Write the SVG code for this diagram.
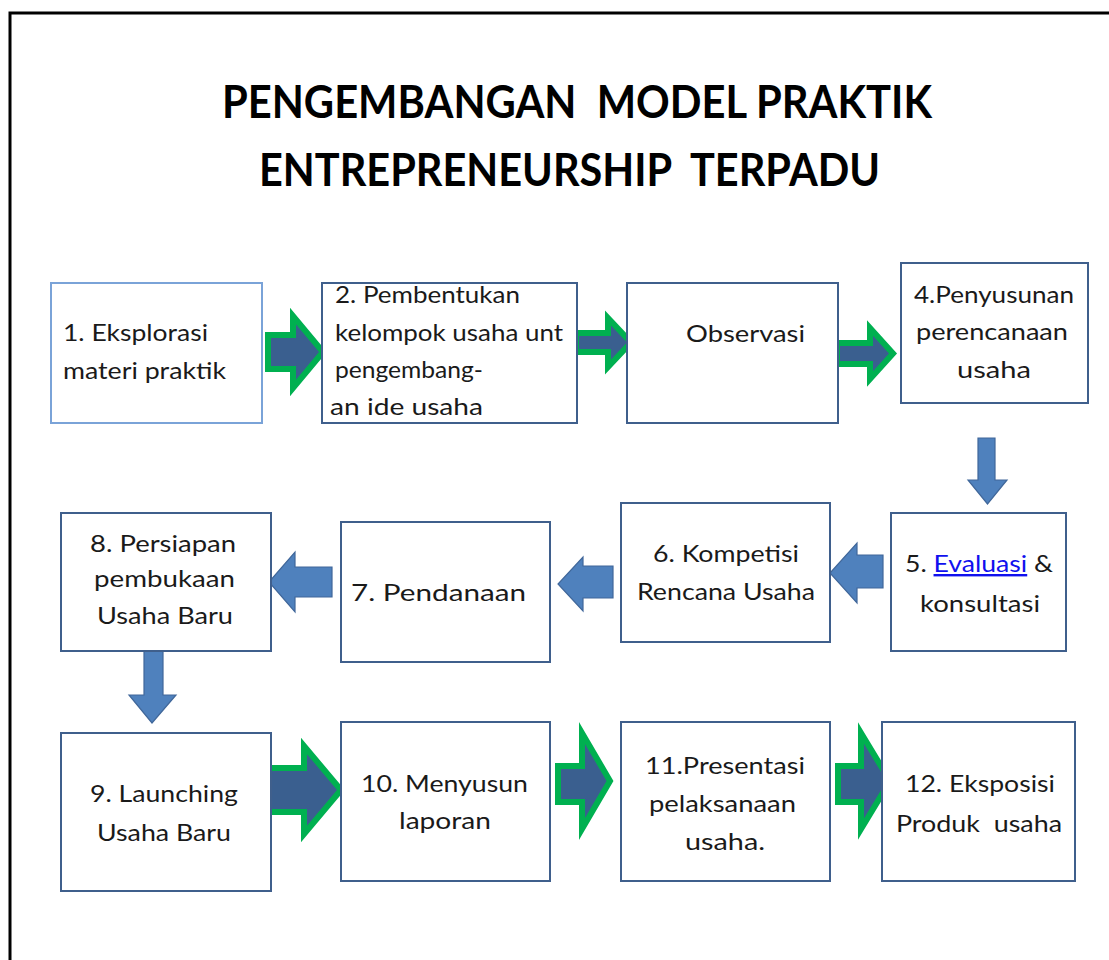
<svg xmlns="http://www.w3.org/2000/svg" width="1109" height="960" viewBox="0 0 1109 960">
<style>
.frame{fill:none;stroke:#000;stroke-width:3}
.box{fill:#fff;stroke:#3f5f8c;stroke-width:2}
.box1{fill:#fff;stroke:#7aa3d8;stroke-width:2}
.t{font-family:Lato,"Open Sans","Liberation Sans",sans-serif;font-size:24px;fill:#1a1a1a}
.title{font-family:Lato,"Open Sans","Liberation Sans",sans-serif;font-size:46px;font-weight:bold;fill:#000}
.ga{fill:#3a5f8f;stroke:#00b050;stroke-width:6;stroke-linejoin:miter}
.ba{fill:#4f81bd;stroke:#40679a;stroke-width:1.2}
.link{fill:#1010ee}
</style>
<rect x="0" y="0" width="1109" height="960" fill="#fff"/>
<path class="frame" d="M10,962 V13 H1112"/>
<g id="title">
<text class="title" x="222" y="118" textLength="710" lengthAdjust="spacingAndGlyphs" xml:space="preserve">PENGEMBANGAN  MODEL PRAKTIK</text>
<text class="title" x="259" y="186" textLength="621" lengthAdjust="spacingAndGlyphs" xml:space="preserve">ENTREPRENEURSHIP  TERPADU</text>
</g>
<g id="connectors">
<path class="ga" d="M268,335 H293 V316 L323,352 L293,388 V369 H268 Z"/>
<path class="ga" d="M576,333 H608 V318 L631,342.5 L608,367 V352 H576 Z"/>
<path class="ga" d="M837,343 H870 V328 L893,353.5 L870,379 V364 H837 Z"/>
<path class="ba" d="M978,438 H995 V480 H1007 L987.5,504 L968,480 H978 Z"/>
<path class="ba" d="M883,555 V588 H857 V603 L830,573 L857,543 V555 Z"/>
<path class="ba" d="M613,566 V598 H583 V611 L558,584 L583,557 V566 Z"/>
<path class="ba" d="M332,567 V597 H295 V612 L269,582 L295,552 V567 Z"/>
<path class="ba" d="M144,643 H163 V695 H176 L152,723 L129,695 H144 Z"/>
<path class="ga" d="M269,768 H304 V746 L341,790 L304,834 V812 H269 Z"/>
<path class="ga" d="M558,766 H582 V733 L610,781 L582,829 V802 H558 Z"/>
<path class="ga" d="M838,766 H861 V733 L890,781 L861,829 V802 H838 Z"/>
</g>
<g id="node1">
<rect class="box1" x="51" y="283" width="211" height="140"/>
<text class="t" x="63" y="341" textLength="145" lengthAdjust="spacingAndGlyphs">1. Eksplorasi</text>
<text class="t" x="63" y="379" textLength="163" lengthAdjust="spacingAndGlyphs">materi praktik</text>
</g>
<g id="node2">
<rect class="box" x="322" y="283" width="255" height="140"/>
<text class="t" x="335" y="303" textLength="185" lengthAdjust="spacingAndGlyphs">2. Pembentukan</text>
<text class="t" x="335" y="341" textLength="228" lengthAdjust="spacingAndGlyphs">kelompok usaha unt</text>
<text class="t" x="335" y="378" textLength="148" lengthAdjust="spacingAndGlyphs">pengembang-</text>
<text class="t" x="330" y="415" textLength="153" lengthAdjust="spacingAndGlyphs">an ide usaha</text>
</g>
<g id="node3">
<rect class="box" x="627" y="283" width="211" height="140"/>
<text class="t" x="686" y="342" textLength="119" lengthAdjust="spacingAndGlyphs">Observasi</text>
</g>
<g id="node4">
<rect class="box" x="901" y="263" width="187" height="140"/>
<text class="t" x="914" y="303" textLength="160" lengthAdjust="spacingAndGlyphs">4.Penyusunan</text>
<text class="t" x="916" y="340" textLength="152" lengthAdjust="spacingAndGlyphs">perencanaan</text>
<text class="t" x="957" y="378" textLength="74" lengthAdjust="spacingAndGlyphs">usaha</text>
</g>
<g id="node5">
<rect class="box" x="891" y="513" width="175" height="138"/>
<text class="t" x="905" y="572" textLength="148" lengthAdjust="spacingAndGlyphs">5. <tspan class="link" text-decoration="underline">Evaluasi</tspan> &amp;</text>
<text class="t" x="920" y="612" textLength="120" lengthAdjust="spacingAndGlyphs">konsultasi</text>
</g>
<g id="node6">
<rect class="box" x="621" y="503" width="209" height="139"/>
<text class="t" x="653" y="562" textLength="146" lengthAdjust="spacingAndGlyphs">6. Kompetisi</text>
<text class="t" x="637" y="600" textLength="178" lengthAdjust="spacingAndGlyphs">Rencana Usaha</text>
</g>
<g id="node7">
<rect class="box" x="341" y="522" width="209" height="140"/>
<text class="t" x="351" y="601" textLength="175" lengthAdjust="spacingAndGlyphs">7. Pendanaan</text>
</g>
<g id="node8">
<rect class="box" x="61" y="513" width="210" height="138"/>
<text class="t" x="90" y="552" textLength="146" lengthAdjust="spacingAndGlyphs">8. Persiapan</text>
<text class="t" x="94" y="587" textLength="141" lengthAdjust="spacingAndGlyphs">pembukaan</text>
<text class="t" x="97" y="624" textLength="136" lengthAdjust="spacingAndGlyphs">Usaha Baru</text>
</g>
<g id="node9">
<rect class="box" x="61" y="733" width="210" height="158"/>
<text class="t" x="90" y="802" textLength="148" lengthAdjust="spacingAndGlyphs">9. Launching</text>
<text class="t" x="97" y="841" textLength="134" lengthAdjust="spacingAndGlyphs">Usaha Baru</text>
</g>
<g id="node10">
<rect class="box" x="341" y="722" width="209" height="159"/>
<text class="t" x="361" y="792" textLength="167" lengthAdjust="spacingAndGlyphs">10. Menyusun</text>
<text class="t" x="399" y="829" textLength="92" lengthAdjust="spacingAndGlyphs">laporan</text>
</g>
<g id="node11">
<rect class="box" x="621" y="722" width="209" height="159"/>
<text class="t" x="645" y="774" textLength="160" lengthAdjust="spacingAndGlyphs">11.Presentasi</text>
<text class="t" x="649" y="812" textLength="147" lengthAdjust="spacingAndGlyphs">pelaksanaan</text>
<text class="t" x="685" y="850" textLength="80" lengthAdjust="spacingAndGlyphs">usaha.</text>
</g>
<g id="node12">
<rect class="box" x="882" y="722" width="193" height="159"/>
<text class="t" x="905" y="792" textLength="150" lengthAdjust="spacingAndGlyphs">12. Eksposisi</text>
<text class="t" x="896" y="832" textLength="166" lengthAdjust="spacingAndGlyphs" xml:space="preserve">Produk  usaha</text>
</g>
</svg>
